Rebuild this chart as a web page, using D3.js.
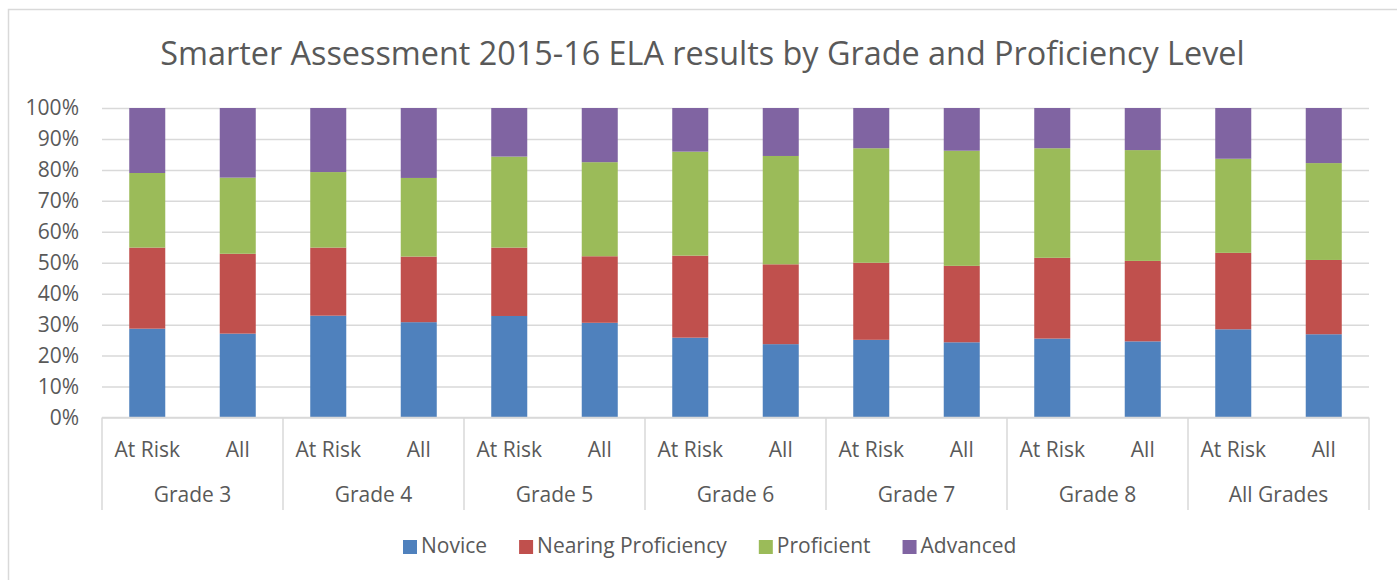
<!DOCTYPE html>
<html>
<head>
<meta charset="utf-8">
<script src="https://cdn.jsdelivr.net/npm/d3@7"></script>
<style>
  html, body { margin: 0; padding: 0; background: #fff; }
  text { font-family: "Open Sans", "Noto Sans", sans-serif; fill: #595959; }
</style>
</head>
<body>
<div class="chart"></div>
<script>
// chart data (percent of students)
const grades = ["Grade 3", "Grade 4", "Grade 5", "Grade 6", "Grade 7", "Grade 8", "All Grades"]
const groups = ["At Risk", "All"]
const levels = ["Novice", "Nearing Proficiency", "Proficient", "Advanced"]
const colors = ["#4F81BD", "#C0504D", "#9BBB59", "#8064A2"]
const yTicks = [0, 10, 20, 30, 40, 50, 60, 70, 80, 90, 100]

// one value per bar: G3 At Risk, G3 All, G4 At Risk, G4 All, ...
const novice     = [28.7, 27.1, 32.9, 30.8, 32.8, 30.6, 25.8, 23.7, 25.1, 24.3, 25.5, 24.6, 28.5, 26.9]
const nearing    = [26.2, 25.8, 22.0, 21.2, 22.1, 21.5, 26.5, 25.8, 24.9, 24.7, 26.1, 26.0, 24.7, 24.0]
const proficient = [24.1, 24.6, 24.4, 25.4, 29.4, 30.4, 33.6, 35.0, 37.0, 37.2, 35.4, 35.8, 30.4, 31.3]
const advanced   = [21.0, 22.5, 20.7, 22.6, 15.7, 17.5, 14.1, 15.5, 13.0, 13.8, 13.0, 13.6, 16.4, 17.8]

const W = 1397, H = 580
const plot = { left: 102, right: 1369, top: 108, bottom: 417.5 }
const gridColor = "#d9d9d9"
const fontSize = 21

// build table rows for d3.stack
const rows = []
grades.forEach((g, gi) => {
  groups.forEach((s, si) => {
    const i = gi * groups.length + si
    rows.push({
      key: g + "|" + s, grade: g, group: s,
      "Novice": novice[i], "Nearing Proficiency": nearing[i],
      "Proficient": proficient[i], "Advanced": advanced[i]
    })
  })
})

const svg = d3.select(".chart").append("svg")
  .attr("width", W).attr("height", H)

// outer chart border (cropped on right / bottom like the source)
svg.append("rect")
  .attr("x", 8.5).attr("y", 9.5)
  .attr("width", W + 20).attr("height", H + 20)
  .attr("fill", "#fff").attr("stroke", gridColor).attr("stroke-width", 1.5)

// title, sized to the source width
const title = svg.append("text")
  .attr("x", 702.5).attr("y", 65)
  .attr("text-anchor", "middle")
  .style("font-size", "30px")
  .text("Smarter Assessment 2015-16 ELA results by Grade and Proficiency Level")
const tw = title.node().getComputedTextLength()
title.style("font-size", (30 * 1085 / tw) + "px")

const x = d3.scaleBand()
  .domain(rows.map(d => d.key))
  .range([plot.left, plot.right])
  .paddingInner(0.602)
  .paddingOuter(0.301)

const xGrade = d3.scaleBand()
  .domain(grades)
  .range([plot.left, plot.right])

const y = d3.scaleLinear()
  .domain([0, 100])
  .range([plot.bottom, plot.top])

// y axis + gridlines
const yAxis = svg.append("g")
  .attr("transform", `translate(${plot.left},0)`)
  .call(d3.axisLeft(y)
    .tickValues(yTicks)
    .tickFormat(d => d + "%")
    .tickSize(-(plot.right - plot.left))
    .tickPadding(23))
yAxis.select(".domain").remove()
yAxis.selectAll("line").attr("stroke", gridColor).attr("stroke-width", 1.5)
yAxis.selectAll("text")
  .attr("fill", "#595959")
  .style("font-size", fontSize + "px")
  .style("font-family", "'Open Sans', sans-serif")

// stacked bars
const stacked = d3.stack().keys(levels)(rows)

svg.append("g").selectAll("g")
  .data(stacked)
  .join("g")
  .attr("fill", (d, i) => colors[i])
  .selectAll("rect")
  .data(d => d)
  .join("rect")
  .attr("x", d => x(d.data.key))
  .attr("width", x.bandwidth())
  .attr("y", d => y(d[1]))
  .attr("height", d => y(d[0]) - y(d[1]))

// category axis (two levels)
const axisBottom = 510
const xa = svg.append("g")
xa.append("line")
  .attr("x1", plot.left).attr("x2", plot.right)
  .attr("y1", y(0)).attr("y2", y(0))
  .attr("stroke", gridColor).attr("stroke-width", 1.5)

const bounds = grades.map(g => xGrade(g)).concat([plot.right])
xa.selectAll(".sep")
  .data(bounds)
  .join("line")
  .attr("class", "sep")
  .attr("x1", d => d).attr("x2", d => d)
  .attr("y1", y(0)).attr("y2", axisBottom)
  .attr("stroke", gridColor).attr("stroke-width", 1.5)

xa.selectAll(".sub")
  .data(rows)
  .join("text")
  .attr("class", "sub")
  .attr("x", d => x(d.key) + x.bandwidth() / 2)
  .attr("y", 456.5)
  .attr("text-anchor", "middle")
  .style("font-size", fontSize + "px")
  .text(d => d.group)

xa.selectAll(".grade")
  .data(grades)
  .join("text")
  .attr("class", "grade")
  .attr("x", d => xGrade(d) + xGrade.bandwidth() / 2)
  .attr("y", 501.5)
  .attr("text-anchor", "middle")
  .style("font-size", fontSize + "px")
  .text(d => d)

// legend
const legend = svg.append("g")
let lx = 403
levels.forEach((name, i) => {
  const item = legend.append("g")
  item.append("rect")
    .attr("x", lx).attr("y", 540)
    .attr("width", 14).attr("height", 14)
    .attr("fill", colors[i])
  const t = item.append("text")
    .attr("x", lx + 18).attr("y", 553)
    .style("font-size", fontSize + "px")
    .text(name)
  lx += 18 + t.node().getComputedTextLength() + 32
})
</script>
</body>
</html>
